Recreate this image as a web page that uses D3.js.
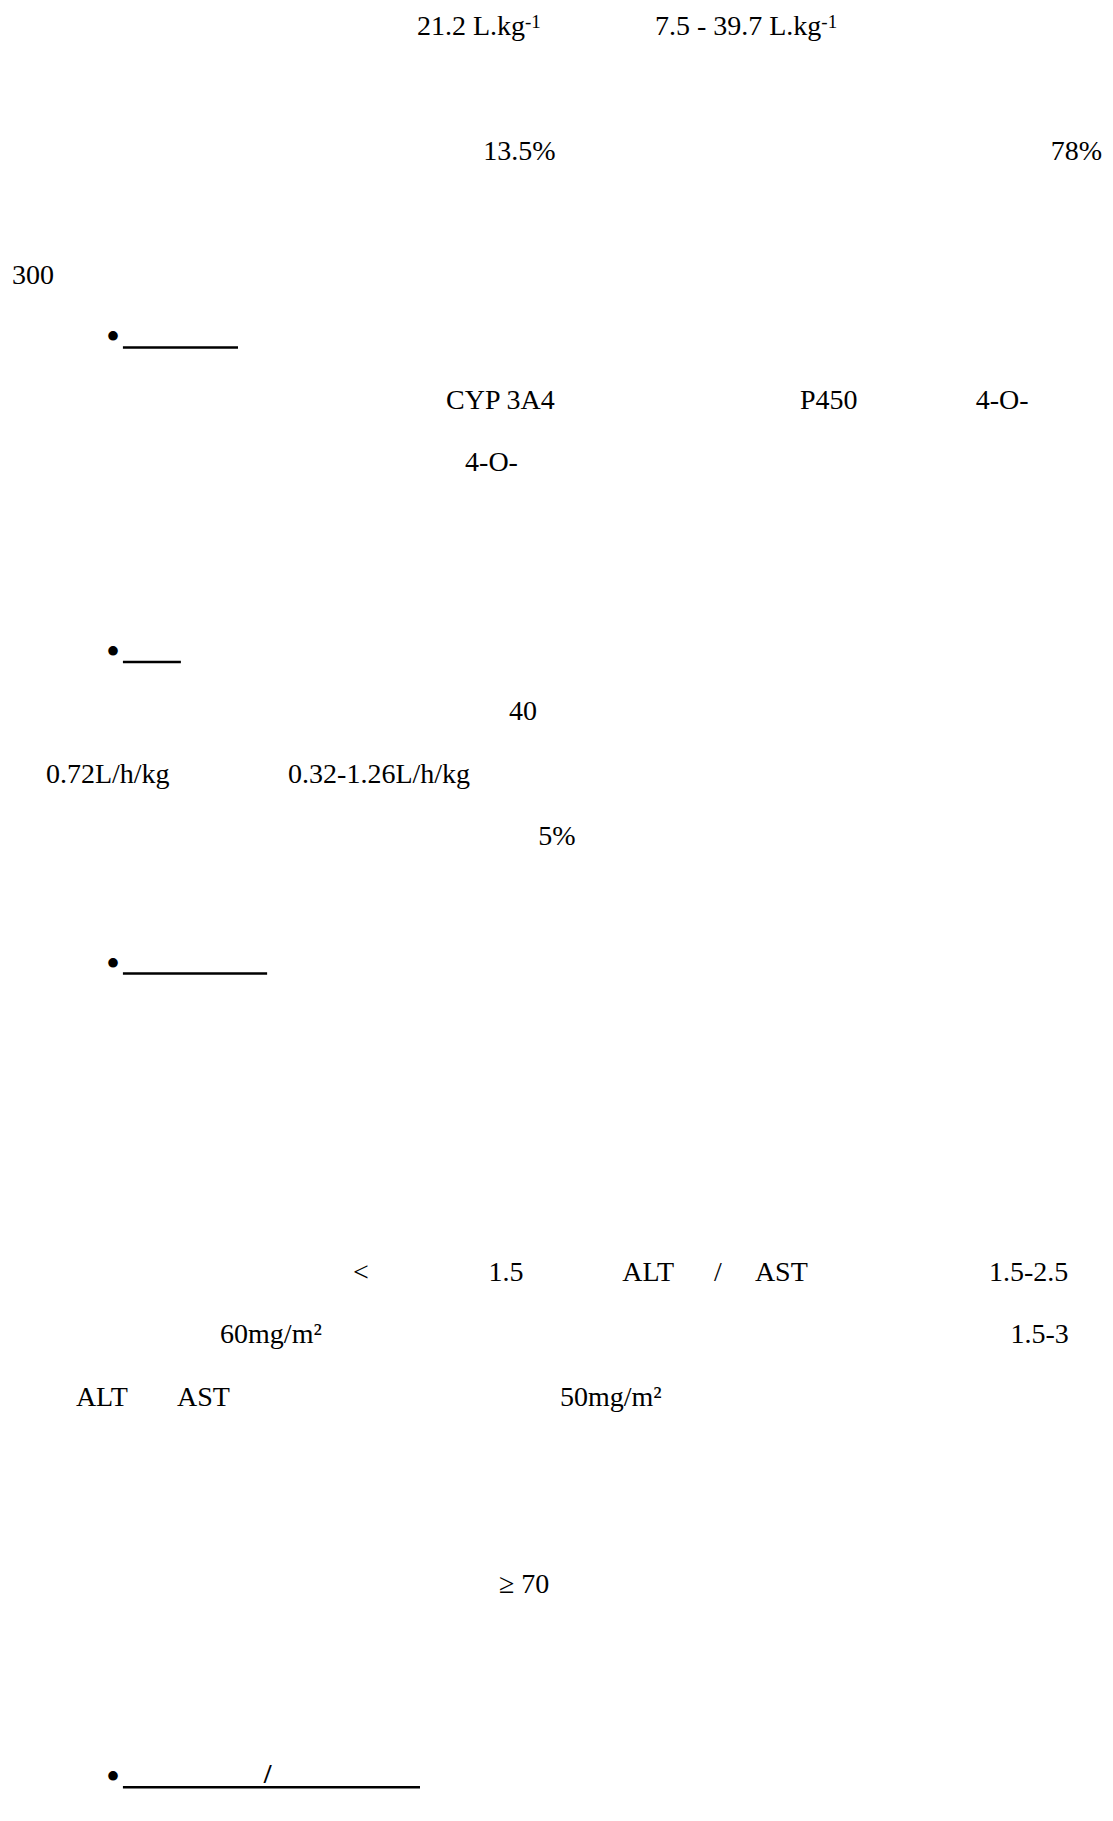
<!DOCTYPE html>
<html>
<head>
<meta charset="utf-8">
<script src="https://cdn.jsdelivr.net/npm/d3@7"></script>
<style>
  body { margin: 0; background: #fff; }
  svg { display: block; background: #fff; }
  text { font-family: "Liberation Serif", "Times New Roman", serif; fill: #000; }
</style>
</head>
<body>
<svg id="page" width="1113" height="1821"></svg>
<script>
// text fragments that survive on the page (the CJK text around them is blank)
const fragments = [
  "21.2 L.kg", "7.5 - 39.7 L.kg",
  "13.5%", "78%",
  "300",
  "CYP 3A4", "P450", "4-O-",
  "4-O-",
  "40",
  "0.72L/h/kg", "0.32-1.26L/h/kg",
  "5%",
  "<", "1.5", "ALT", "/", "AST", "1.5-2.5",
  "60mg/m\u00b2", "1.5-3",
  "ALT", "AST", "50mg/m\u00b2",
  "\u2265 70"
];
const superscripts = ["-1", "-1"];
// row of the page grid each fragment sits on
const lineNo = [0, 0, 2, 2, 4, 6, 6, 6, 7, 11, 12, 12, 13, 20, 20, 20, 20, 20, 20, 21, 21, 22, 22, 22, 25];
// start column of each fragment, in em
const column = [14.89, 23.39, 17.26, 37.53, 0.43, 15.93, 28.57, 34.85, 16.61, 18.18, 1.64, 10.29, 19.22,
                12.61, 17.45, 22.22, 25.5, 26.96, 35.32, 7.86, 36.09, 2.71, 6.32, 20.0, 17.82];

// bulleted headings: underlined, the heading text itself is blank
const headingLine = [4.95, 10, 15, 28.06];
const headingFrom = [4.39, 4.39, 4.39, 4.39];
const headingTo = [8.5, 6.46, 9.54, 15.0];
const headingMark = ["", "", "", "/"];
const headingMarkCol = [0, 0, 0, 9.42];

const svg = d3.select("#page");
const width = +svg.attr("width");
const fontSize = 28;
const pitch = 62.3;

const x = d3.scaleLinear().domain([0, width / fontSize]).range([0, width]);
const y = d3.scaleLinear().domain([0, 28]).range([35, 35 + 28 * pitch]);

// body text
const body = svg.append("g").attr("font-size", fontSize + "px");

const items = fragments.map((t, i) => ({ text: t, line: lineNo[i], col: column[i], sup: superscripts[i] }));

const txt = body.selectAll("text.frag")
  .data(items)
  .enter().append("text")
    .attr("class", "frag")
    .attr("x", d => x(d.col))
    .attr("y", d => y(d.line))
    .text(d => d.text);

// superscript -1 on L.kg
txt.filter(d => d.sup)
  .append("tspan")
    .attr("dy", -7)
    .attr("font-size", "19px")
    .text(d => d.sup);

// headings
const heads = headingLine.map((l, i) => ({
  line: l, from: headingFrom[i], to: headingTo[i], mark: headingMark[i], markCol: headingMarkCol[i]
}));

const hg = svg.append("g");

hg.selectAll("text.bullet")
  .data(heads)
  .enter().append("text")
    .attr("class", "bullet")
    .attr("x", d => x(d.from) - 10)
    .attr("y", d => y(d.line) + 7)
    .attr("text-anchor", "middle")
    .attr("font-size", "40px")
    .text("\u2022");

hg.selectAll("line.under")
  .data(heads)
  .enter().append("line")
    .attr("class", "under")
    .attr("x1", d => x(d.from))
    .attr("x2", d => x(d.to))
    .attr("y1", d => y(d.line) + 4)
    .attr("y2", d => y(d.line) + 4)
    .attr("stroke", "#000")
    .attr("stroke-width", 2.5);

hg.selectAll("text.mark")
  .data(heads.filter(d => d.mark))
  .enter().append("text")
    .attr("class", "mark")
    .attr("x", d => x(d.markCol))
    .attr("y", d => y(d.line))
    .attr("font-size", fontSize + "px")
    .attr("font-weight", "bold")
    .text(d => d.mark);
</script>
</body>
</html>
